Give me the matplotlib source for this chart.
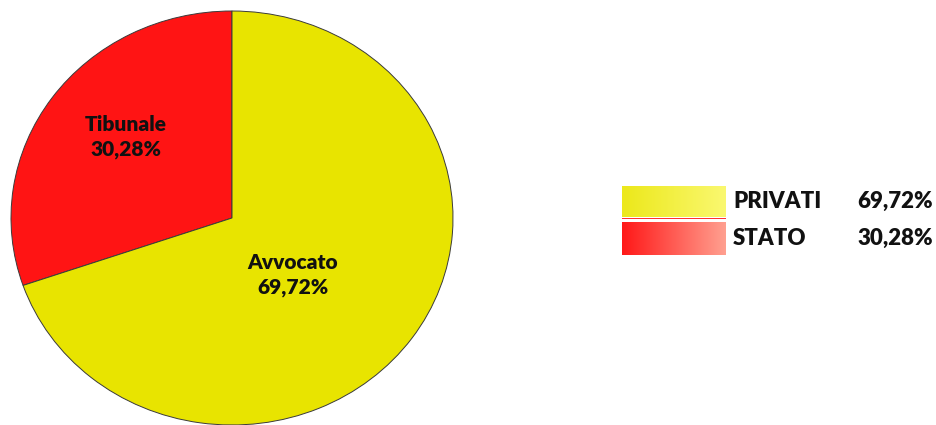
import numpy as np
import matplotlib.pyplot as plt
from matplotlib.colors import LinearSegmentedColormap

plt.rcParams['font.family'] = ['Lato', 'DejaVu Sans']

# Ripartizione delle spese
slice_labels = ['Tibunale', 'Avvocato']
legend_labels = ['PRIVATI', 'STATO']
values = [30.28, 69.72]           # ordine degli spicchi
legend_values = [69.72, 30.28]    # ordine della legenda
slice_colors = ['#FF1414', '#E8E400']
grad_colors = [('#ECE81A', '#FAF870'), ('#FF1818', '#FFA090')]


def pct(v):
    return f"{v:.2f}".replace('.', ',') + '%'


W, H = 937, 425
fig = plt.figure(figsize=(W / 100, H / 100), dpi=100)

# torta leggermente schiacciata: rx=221 px, ry=207 px
cx, cy, rx, ry = 232, 218, 221, 207
ax = fig.add_axes([(cx - rx) / W, (H - cy - ry) / H, 2 * rx / W, 2 * ry / H])
wedges, _ = ax.pie(values, colors=slice_colors, startangle=90, counterclock=True,
                   wedgeprops=dict(edgecolor='#3a3a3a', linewidth=0.7))
ax.set_aspect('auto')
ax.set_xlim(-1, 1)
ax.set_ylim(-1, 1)
ax.axis('off')

# etichette dentro gli spicchi (angolo, distanza dal centro)
label_pos = [(141, 0.62), (-45, 0.39)]
for name, v, (ang, d) in zip(slice_labels, values, label_pos):
    a = np.deg2rad(ang)
    ax.text(d * np.cos(a), d * np.sin(a), f"{name}\n{pct(v)}", ha='center', va='center',
            fontsize=15, fontweight='heavy', linespacing=1.35, color='#111111')

# legenda con riquadri sfumati, in coordinate pixel
lg = fig.add_axes([0, 0, 1, 1])
lg.set_xlim(0, W)
lg.set_ylim(H, 0)
lg.axis('off')
grad = np.linspace(0, 1, 256)[None, :]
boxes = [(186, 217), (222, 255)]
for i, ((c0, c1), (y0, y1)) in enumerate(zip(grad_colors, boxes)):
    cmap = LinearSegmentedColormap.from_list(f'g{i}', [c0, c1])
    lg.imshow(grad, cmap=cmap, extent=(622, 726, y1, y0), aspect='auto')
    yc = (y0 + y1) / 2
    lg.text(733, yc, legend_labels[i], ha='left', va='center',
            fontsize=16, fontweight='heavy', color='#111111')
    lg.text(933, yc, pct(legend_values[i]), ha='right', va='center',
            fontsize=16, fontweight='heavy', color='#111111')
# sottile riga rossa sotto il riquadro giallo
lg.fill_between([622, 726], 217.5, 219, color='#FF3030', linewidth=0)
lg.set_xlim(0, W)
lg.set_ylim(H, 0)

fig.savefig('out.png', dpi=100)
